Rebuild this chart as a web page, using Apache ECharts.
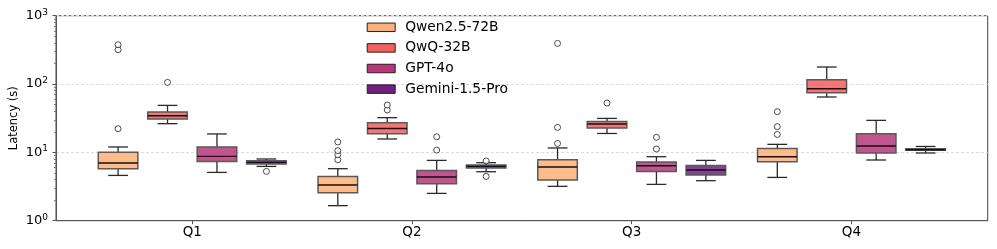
<!DOCTYPE html>
<html><head><meta charset="utf-8">
<script src="https://cdn.jsdelivr.net/npm/echarts@6/dist/echarts.min.js"></script>
<style>html,body{margin:0;padding:0;background:#fff}#c{width:997px;height:249px}</style>
</head><body><div id="c"></div>
<script>
const quarters = ['Q1', 'Q2', 'Q3', 'Q4'];
const models = ['Qwen2.5-72B', 'QwQ-32B', 'GPT-4o', 'Gemini-1.5-Pro'];
// per quarter: [min, Q1, median, Q3, max]
const qwenStats   = [[4.6, 5.77, 7.0, 10.0, 12.0], [1.66, 2.57, 3.33, 4.45, 5.77], [3.18, 3.94, 6.11, 7.81, 11.6], [4.3, 7.3, 8.64, 11.4, 13.1]];
const qwqStats    = [[26.3, 30.8, 34.4, 39.0, 48.7], [15.7, 18.8, 22.4, 27.2, 32.2], [18.9, 22.7, 26.0, 28.4, 31.4], [64.6, 74.7, 85.5, 115.7, 177.5]];
const gptStats    = [[5.09, 7.38, 8.73, 12.0, 18.6], [2.51, 3.48, 4.36, 5.45, 7.63], [3.40, 5.27, 6.38, 7.23, 8.64], [7.73, 9.79, 12.4, 18.8, 29.4]];
const geminiStats = [[6.23, 6.76, 7.13, 7.55, 8.0], [5.21, 5.91, 6.23, 6.53, 7.06], [3.85, 4.67, 5.52, 6.45, 7.63], [9.79, 10.7, 10.9, 11.3, 12.2]];
// outliers per quarter
const qwenOutliers   = [[22.2, 318, 376], [7.8, 9.25, 10.6, 14.2], [13.5, 23.2, 393], [18.3, 23.8, 39.4]];
const qwqOutliers    = [[105.7], [41.7, 49.3], [52.8], []];
const gptOutliers    = [[], [10.8, 16.9], [11.2, 16.6], []];
const geminiOutliers = [[5.27], [4.45, 7.48], [], []];
const yTickValues = [1, 10, 100, 1000];
const yMinorTickValues = [2,3,4,5,6,7,8,9,20,30,40,50,60,70,80,90,200,300,400,500,600,700,800,900];

const stats = [qwenStats, qwqStats, gptStats, geminiStats];
const outliers = [qwenOutliers, qwqOutliers, gptOutliers, geminiOutliers];
const colors = ['#feb078', '#f1605d', '#b73779', '#721f81'];
const OFFSETS = [-0.3375, -0.1125, 0.1125, 0.3375];
const BOX_W = 0.18;
const FONT = 'DejaVu Sans';

function rgba(hex, a) {
  const n = parseInt(hex.slice(1), 16);
  return 'rgba(' + (n >> 16) + ',' + ((n >> 8) & 255) + ',' + (n & 255) + ',' + a + ')';
}

const series = [];
models.forEach(function (m, k) {
  series.push({
    type: 'custom',
    name: m,
    data: stats[k].map(function (s, i) { return [i].concat(s); }),
    encode: { x: 0, y: [1, 2, 3, 4, 5] },
    itemStyle: { color: colors[k] },
    renderItem: function (params, api) {
      const x = api.value(0) + OFFSETS[k];
      const lo = api.value(1), q1 = api.value(2), md = api.value(3), q3 = api.value(4), hi = api.value(5);
      const pTL = api.coord([x - BOX_W / 2, q3]);
      const pBR = api.coord([x + BOX_W / 2, q1]);
      const xc = api.coord([x, md])[0];
      const yMed = api.coord([x, md])[1];
      const yLo = api.coord([x, lo])[1];
      const yHi = api.coord([x, hi])[1];
      const w = pBR[0] - pTL[0];
      const capH = w / 4;
      const ls = { stroke: '#2a2a2a', lineWidth: 1.3 };
      return {
        type: 'group',
        children: [
          { type: 'line', shape: { x1: xc, y1: pTL[1], x2: xc, y2: yHi }, style: ls },
          { type: 'line', shape: { x1: xc, y1: pBR[1], x2: xc, y2: yLo }, style: ls },
          { type: 'line', shape: { x1: xc - capH, y1: yHi, x2: xc + capH, y2: yHi }, style: ls },
          { type: 'line', shape: { x1: xc - capH, y1: yLo, x2: xc + capH, y2: yLo }, style: ls },
          { type: 'rect', shape: { x: pTL[0], y: pTL[1], width: w, height: pBR[1] - pTL[1] },
            style: { fill: rgba(colors[k], 0.85), stroke: '#5a5a5a', lineWidth: 1.5 } },
          { type: 'line', shape: { x1: pTL[0], y1: yMed, x2: pBR[0], y2: yMed }, style: { stroke: '#111', lineWidth: 1.4 } }
        ]
      };
    }
  });
  const pts = [];
  outliers[k].forEach(function (arr, i) {
    arr.forEach(function (v) { pts.push([i + OFFSETS[k], v]); });
  });
  series.push({
    type: 'scatter',
    name: m + ' outliers',
    data: pts,
    symbol: 'circle',
    symbolSize: 6,
    itemStyle: { color: '#fff', borderColor: '#222', borderWidth: 1 },
    z: 5
  });
});

const chart = echarts.init(document.getElementById('c'), null, { renderer: 'canvas' });
chart.setOption({
  animation: false,
  backgroundColor: '#fff',
  textStyle: { fontFamily: FONT },
  grid: { left: 56, right: 9.3, top: 15.7, bottom: 28.3, show: true, borderColor: '#444', borderWidth: 1, outerBoundsMode: 'none', containLabel: false },
  legend: {
    orient: 'vertical', left: 366.7, top: 20.3, padding: 0,
    itemWidth: 28, itemHeight: 8.5, itemGap: 6.6, icon: 'rect',
    textStyle: { fontSize: 13.8, color: '#000', fontFamily: FONT, lineHeight: 14, padding: [0, 0, 0, 5] },
    data: models.map(function (m, k) {
      return { name: m, icon: 'rect', itemStyle: { color: colors[k], borderColor: '#222', borderWidth: 1 } };
    })
  },
  xAxis: {
    type: 'value', min: -0.62, max: 3.62,
    splitLine: { show: false },
    axisLine: { show: true, onZero: false, lineStyle: { color: '#555', width: 1 } },
    axisTick: { show: true, length: 3.5, customValues: [0, 1, 2, 3], lineStyle: { color: '#555' } },
    axisLabel: { customValues: [0, 1, 2, 3], formatter: function (v) { return quarters[Math.round(v)]; },
      fontSize: 13.5, color: '#000', margin: 5, fontFamily: FONT }
  },
  yAxis: [{
    type: 'log', logBase: 10, min: 1, max: 1000,
    name: 'Latency (s)', nameLocation: 'middle', nameGap: 36, nameMoveOverlap: false,
    nameTextStyle: { fontSize: 11.5, color: '#000', fontFamily: FONT },
    axisLine: { show: true, onZero: false, lineStyle: { color: '#555', width: 1 } },
    axisTick: { show: true, length: 3.5, customValues: yTickValues, lineStyle: { color: '#555' } },
    splitLine: { show: true, lineStyle: { color: '#dcdcdc', type: [3, 2], width: 1 } },
    axisLabel: {
      customValues: yTickValues,
      margin: 8, color: '#000', fontSize: 13, fontFamily: FONT,
      formatter: function (v) { return '10{s|' + Math.round(Math.log10(v)) + '}'; },
      rich: { s: { fontSize: 9, color: '#000', fontFamily: FONT, padding: [0, 0, 7, 0] } }
    }
  }, {
    type: 'log', logBase: 10, min: 1, max: 1000, position: 'left',
    axisLine: { show: false, onZero: false },
    axisLabel: { show: false },
    splitLine: { show: false },
    axisTick: { show: true, length: 2, customValues: yMinorTickValues, lineStyle: { color: '#666', width: 0.8 } }
  }],
  series: series
});
</script>
</body></html>
